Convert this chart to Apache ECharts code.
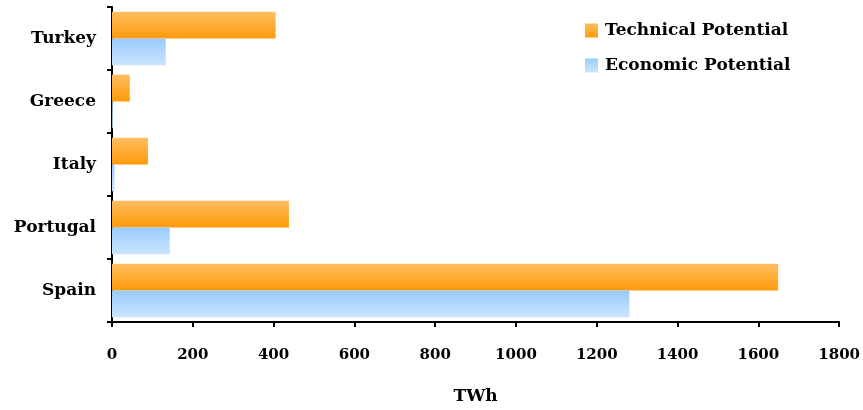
<!DOCTYPE html>
<html><head><meta charset="utf-8">
<script src="https://cdn.jsdelivr.net/npm/echarts@6/dist/echarts.min.js"></script>
<style>html,body{margin:0;padding:0;background:#fff}#c{width:863px;height:410px}</style>
</head><body><div id="c"></div>
<script>
var categories = ['Spain', 'Portugal', 'Italy', 'Greece', 'Turkey'];
var technical = [1649, 438, 89, 44, 405];
var economic = [1281, 143, 6, 2, 133];
var xTicks = [0, 200, 400, 600, 800, 1000, 1200, 1400, 1600, 1800];

var font = '"DejaVu Serif", "Liberation Serif", serif';
var chart = echarts.init(document.getElementById('c'));
var orange = new echarts.graphic.LinearGradient(0, 0, 0, 1, [{offset: 0, color: '#FFBE60'}, {offset: 1, color: '#FF9A0A'}]);
var blue = new echarts.graphic.LinearGradient(0, 0, 0, 1, [{offset: 0, color: '#99CAFF'}, {offset: 1, color: '#CCE5FF'}]);
chart.setOption({
  animation: false,
  grid: {left: 112, right: 23, top: 7, bottom: 82},
  legend: {
    orient: 'vertical', left: 580, top: 17, itemWidth: 13, itemHeight: 14, itemGap: 18,
    icon: 'rect',
    textStyle: {fontFamily: font, fontWeight: 'bold', fontSize: 17, color: '#000', padding: [0, 0, 0, 2]},
    data: ['Technical Potential', 'Economic Potential']
  },
  xAxis: {
    type: 'value', min: 0, max: 1800, interval: 200,
    name: 'TWh', nameLocation: 'middle', nameGap: 66,
    nameTextStyle: {fontFamily: font, fontWeight: 'bold', fontSize: 17, color: '#000'},
    axisLine: {show: true, lineStyle: {color: '#000', width: 2}},
    axisTick: {show: true, length: 5, lineStyle: {color: '#000', width: 2}},
    splitLine: {show: false},
    axisLabel: {fontFamily: font, fontWeight: 'bold', fontSize: 15, color: '#000', margin: 26,
      formatter: function (v) { return xTicks.indexOf(v) >= 0 ? String(v) : ''; }}
  },
  yAxis: {
    type: 'category', data: categories,
    axisLine: {show: true, lineStyle: {color: '#000', width: 2}},
    axisTick: {show: true, length: 5, lineStyle: {color: '#000', width: 2}},
    axisLabel: {fontFamily: font, fontWeight: 'bold', fontSize: 17, color: '#000', margin: 16}
  },
  series: [
    {name: 'Technical Potential', type: 'bar', data: technical, barGap: '0%', barCategoryGap: '15%',
      itemStyle: {color: orange}},
    {name: 'Economic Potential', type: 'bar', data: economic, barGap: '0%', barCategoryGap: '15%',
      itemStyle: {color: blue}}
  ]
});
</script></body></html>
